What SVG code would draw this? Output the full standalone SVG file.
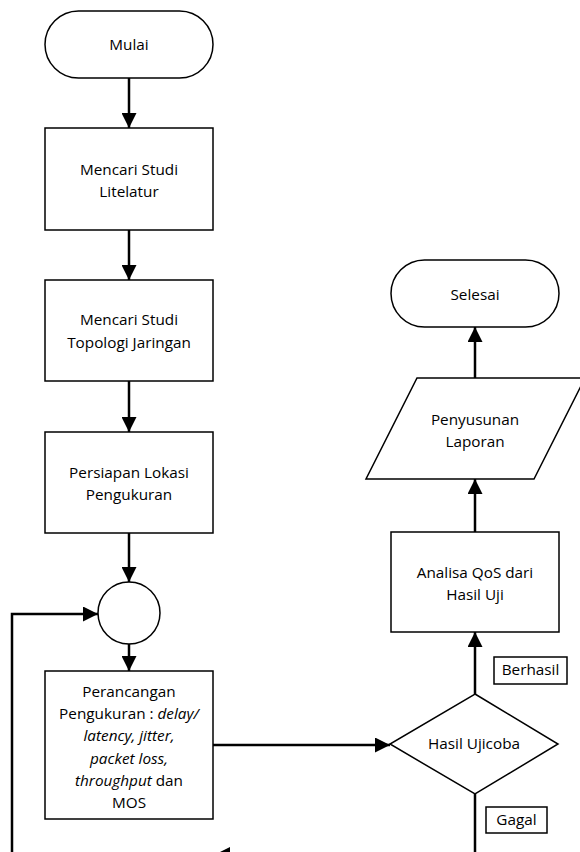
<svg xmlns="http://www.w3.org/2000/svg" width="580" height="852" viewBox="0 0 580 852">
<defs>
<style>
.n{fill:#fff;stroke:#000;stroke-width:1.5}
.c{fill:none;stroke:#000;stroke-width:2.5}
.t{font-family:"Open Sans","Liberation Sans",sans-serif;font-size:15.3px;fill:#000;text-anchor:middle}
.i{font-style:italic}
</style>
<marker id="ah" viewBox="0 0 10 10" refX="10" refY="5" markerWidth="6" markerHeight="6" markerUnits="strokeWidth" orient="auto">
<path d="M0,0 L10,5 L0,10 Z" fill="#000"/>
</marker>
</defs>
<rect width="580" height="852" fill="#fff"/>
<g id="connectors">
<line class="c" x1="129" y1="78" x2="129" y2="128" marker-end="url(#ah)"/>
<line class="c" x1="129" y1="230" x2="129" y2="280" marker-end="url(#ah)"/>
<line class="c" x1="129" y1="381" x2="129" y2="432" marker-end="url(#ah)"/>
<line class="c" x1="129" y1="533" x2="129" y2="582" marker-end="url(#ah)"/>
<line class="c" x1="129" y1="644" x2="129" y2="671" marker-end="url(#ah)"/>
<polyline class="c" points="12,856 12,614 98,614" marker-end="url(#ah)"/>
<line class="c" x1="213" y1="745" x2="390" y2="745" marker-end="url(#ah)"/>
<line class="c" x1="475" y1="694" x2="475" y2="632" marker-end="url(#ah)"/>
<line class="c" x1="475" y1="532" x2="475" y2="479" marker-end="url(#ah)"/>
<line class="c" x1="475" y1="378" x2="475" y2="327" marker-end="url(#ah)"/>
<polyline class="c" points="475,794 475,854.5 215,854.5" marker-end="url(#ah)"/>
</g>
<g id="mulai">
<rect class="n" x="45" y="11" width="168" height="67" rx="33.5"/>
<text class="t" x="129" y="50">Mulai</text>
</g>
<g id="studi-literatur">
<rect class="n" x="45" y="128" width="168" height="102"/>
<text class="t" x="129" y="175">Mencari Studi</text>
<text class="t" x="129" y="197">Litelatur</text>
</g>
<g id="studi-topologi">
<rect class="n" x="45" y="280" width="168" height="101"/>
<text class="t" x="129" y="325">Mencari Studi</text>
<text class="t" x="129" y="348">Topologi Jaringan</text>
</g>
<g id="persiapan">
<rect class="n" x="45" y="432" width="168" height="101"/>
<text class="t" x="129" y="478">Persiapan Lokasi</text>
<text class="t" x="129" y="500">Pengukuran</text>
</g>
<g id="konektor">
<circle class="n" cx="129" cy="613" r="31"/>
</g>
<g id="perancangan">
<rect class="n" x="45" y="671" width="168" height="148"/>
<text class="t" x="129" y="697">Perancangan</text>
<text class="t" x="129" y="719">Pengukuran : <tspan class="i">delay/</tspan></text>
<text class="t i" x="129" y="741">latency, jitter,</text>
<text class="t i" x="129" y="764">packet loss,</text>
<text class="t" x="129" y="786"><tspan class="i">throughput</tspan> dan</text>
<text class="t" x="129" y="808">MOS</text>
</g>
<g id="hasil-ujicoba">
<polygon class="n" points="475,694 558,744 475,794 390,744"/>
<text class="t" x="474" y="749">Hasil Ujicoba</text>
</g>
<g id="analisa">
<rect class="n" x="391" y="532" width="168" height="100"/>
<text class="t" x="475" y="578">Analisa QoS dari</text>
<text class="t" x="475" y="600">Hasil Uji</text>
</g>
<g id="penyusunan">
<polygon class="n" points="417,378 585,378 534,479 366,479"/>
<text class="t" x="475" y="425">Penyusunan</text>
<text class="t" x="475" y="447">Laporan</text>
</g>
<g id="selesai">
<rect class="n" x="391" y="260" width="168" height="67" rx="33.5"/>
<text class="t" x="475" y="300">Selesai</text>
</g>
<g id="label-berhasil">
<rect class="n" x="494" y="657" width="73" height="27"/>
<text class="t" x="530.5" y="675">Berhasil</text>
</g>
<g id="label-gagal">
<rect class="n" x="486" y="807" width="61" height="26"/>
<text class="t" x="516.5" y="825">Gagal</text>
</g>
</svg>
